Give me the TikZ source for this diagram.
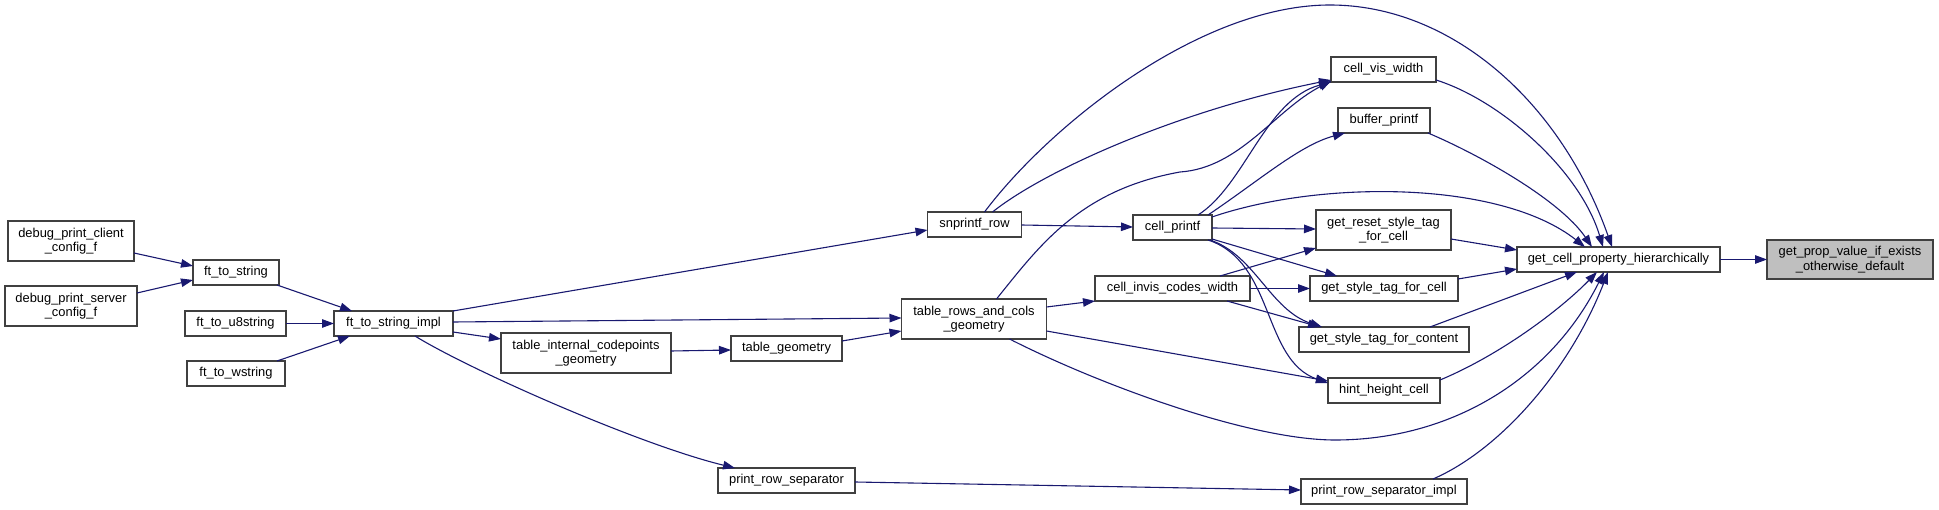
\documentclass[tikz,border=0pt]{standalone}
\usepackage{fontspec}
\setmainfont{Liberation Sans}
\usetikzlibrary{arrows.meta,calc}
\definecolor{edgec}{HTML}{191970}
\definecolor{nodeb}{HTML}{404040}
\definecolor{hl}{HTML}{BFBFBF}
\tikzset{
  box/.style={draw=nodeb, line width=1.1pt, fill=white, inner sep=0pt, outer sep=0pt,
    align=center, text=black, font=\fontsize{12.9}{14.5}\selectfont},
  edge/.style={draw=edgec, line width=1.1pt, -{Triangle[length=12pt,width=8.5pt]}},
}
\begin{document}
\begin{tikzpicture}[x=1pt,y=-1pt]
\useasboundingbox[fill=white] (0,0) rectangle (1939,510);
% nodes
\node[box, minimum width=126pt, minimum height=40pt] (dpc) at (71,241) {debug\_print\_client\\\_config\_f};
\node[box, minimum width=132pt, minimum height=40pt] (dps) at (71,306) {debug\_print\_server\\\_config\_f};
\node[box, minimum width=86pt, minimum height=25pt] (fts) at (236,272.5) {ft\_to\_string};
\node[box, minimum width=101pt, minimum height=25pt] (ftu) at (235.5,323.5) {ft\_to\_u8string};
\node[box, minimum width=98pt, minimum height=25pt] (ftw) at (236,373.5) {ft\_to\_wstring};
\node[box, minimum width=119pt, minimum height=25pt] (fti) at (393.5,323.5) {ft\_to\_string\_impl};
\node[box, minimum width=94pt, minimum height=25pt] (snr) at (974.5,224.5) {snprintf\_row};
\node[box, minimum width=145pt, minimum height=40pt] (trcg) at (974,319) {table\_rows\_and\_cols\\\_geometry};
\node[box, minimum width=170pt, minimum height=40pt] (ticg) at (586,353) {table\_internal\_codepoints\\\_geometry};
\node[box, minimum width=111pt, minimum height=25pt] (tg) at (786.5,348.5) {table\_geometry};
\node[box, minimum width=137pt, minimum height=25pt] (prs) at (786.5,480.5) {print\_row\_separator};
\node[box, minimum width=105pt, minimum height=25pt] (cvw) at (1383.5,69.5) {cell\_vis\_width};
\node[box, minimum width=92pt, minimum height=25pt] (bp) at (1384,120.5) {buffer\_printf};
\node[box, minimum width=79pt, minimum height=25pt] (cp) at (1172.5,227.5) {cell\_printf};
\node[box, minimum width=135pt, minimum height=40pt] (grst) at (1383.5,230) {get\_reset\_style\_tag\\\_for\_cell};
\node[box, minimum width=155pt, minimum height=25pt] (ciw) at (1172.5,288.5) {cell\_invis\_codes\_width};
\node[box, minimum width=148pt, minimum height=25pt] (gstc) at (1384,288.5) {get\_style\_tag\_for\_cell};
\node[box, minimum width=170pt, minimum height=25pt] (gstcont) at (1384,339.5) {get\_style\_tag\_for\_content};
\node[box, minimum width=112pt, minimum height=25pt] (hhc) at (1384,390.5) {hint\_height\_cell};
\node[box, minimum width=166pt, minimum height=25pt] (prsi) at (1384,491.5) {print\_row\_separator\_impl};
\node[box, minimum width=203pt, minimum height=25pt] (gcph) at (1618.5,259.5) {get\_cell\_property\_hierarchically};
\node[box, fill=hl, minimum width=166pt, minimum height=39pt] (gpv) at (1850,259.5) {get\_prop\_value\_if\_exists\\\_otherwise\_default};
% edges
\draw[edge] ($(dpc.north west)+(126,32)$) -- ($(fts.north west)+(0,6)$);
\draw[edge] ($(dps.north west)+(132,7)$) -- ($(fts.north west)+(0,20)$);
\draw[edge] ($(fts.north west)+(84,25)$) -- ($(fti.north west)+(18,0)$);
\draw[edge] (ftu.east) -- (fti.west);
\draw[edge] ($(ftw.north west)+(90,0)$) -- ($(fti.north west)+(16,25)$);
\draw[edge] (fti.north east) -- ($(snr.north west)+(0,18)$);
\draw[edge] ($(fti.north west)+(119,11)$) -- ($(trcg.north west)+(0,19)$);
\draw[edge] ($(fti.north west)+(119,21)$) -- ($(ticg.north west)+(0,6)$);
\draw[edge] ($(fti.north west)+(81,25)$) .. controls (470,370) and (640,445) .. ($(prs.north west)+(17,0)$);
\draw[edge] ($(ticg.north west)+(170,18)$) -- ($(tg.north west)+(0,14)$);
\draw[edge] ($(tg.north west)+(111,5)$) -- ($(trcg.north west)+(0,32)$);
\draw[edge] ($(snr.north west)+(94,13)$) -- ($(cp.north west)+(0,12)$);
\draw[edge] ($(snr.north west)+(65,0)$) .. controls (1045,170) and (1180,110) .. ($(cvw.north west)+(0,23)$);
\draw[edge] ($(snr.north west)+(57,0)$) .. controls (1050,125) and (1200,5) .. (1330,5)
   .. controls (1450,5) and (1560,100) .. ($(gcph.north west)+(95,0)$);
\draw[edge] ($(trcg.north west)+(95,0)$) .. controls (1040,245) and (1080,190) .. (1180,172)
   .. controls (1240,168) and (1275,110) .. ($(cvw.north west)+(0,24)$);
\draw[edge] ($(trcg.north west)+(145,8)$) -- (ciw.south west);
\draw[edge] ($(trcg.north west)+(145,32)$) -- ($(hhc.north west)+(0,3)$);
\draw[edge] ($(trcg.north west)+(108,40)$) .. controls (1100,385) and (1250,440) .. (1335,440)
   .. controls (1450,440) and (1550,380) .. ($(gcph.north west)+(87,25)$);
\draw[edge] ($(cp.north west)+(65,0)$) .. controls (1245,185) and (1265,100) .. (cvw.south west);
\draw[edge] ($(cp.north west)+(75,0)$) .. controls (1260,180) and (1300,145) .. ($(bp.north west)+(7,25)$);
\draw[edge] ($(cp.north west)+(79,2)$) .. controls (1320,180) and (1500,180) .. ($(gcph.north west)+(68,0)$);
\draw[edge] ($(cp.north west)+(79,13)$) -- ($(grst.north west)+(0,19)$);
\draw[edge] ($(cp.north west)+(79,24)$) -- ($(gstc.north west)+(27,0)$);
\draw[edge] ($(cp.north west)+(77,25)$) .. controls (1255,255) and (1270,310) .. ($(gstcont.north west)+(23,0)$);
\draw[edge] ($(cp.north west)+(75,25)$) .. controls (1275,262) and (1262,360) .. ($(hhc.north west)+(0,5)$);
\draw[edge] ($(ciw.north west)+(125,0)$) -- ($(grst.north west)+(0,38)$);
\draw[edge] (ciw.east) -- (gstc.west);
\draw[edge] ($(ciw.north west)+(132,25)$) -- ($(gstcont.north west)+(21,0)$);
\draw[edge] ($(cvw.north west)+(105,23)$) .. controls (1500,100) and (1580,170) .. ($(gcph.north west)+(86,0)$);
\draw[edge] ($(bp.north west)+(90,25)$) .. controls (1480,155) and (1560,200) .. ($(gcph.north west)+(75,0)$);
\draw[edge] ($(grst.north west)+(135,29)$) -- ($(gcph.north west)+(0,3)$);
\draw[edge] ($(gstc.north west)+(148,3)$) -- ($(gcph.north west)+(0,22)$);
\draw[edge] ($(gstcont.north west)+(131,0)$) -- ($(gcph.north west)+(60,25)$);
\draw[edge] ($(hhc.north west)+(112,2)$) .. controls (1500,355) and (1560,310) .. ($(gcph.north west)+(80,25)$);
\draw[edge] ($(prsi.north west)+(132,0)$) .. controls (1500,450) and (1570,370) .. ($(gcph.north west)+(91,25)$);
\draw[edge] ($(prs.north west)+(137,14)$) -- ($(prsi.north west)+(0,11)$);
\draw[edge] (gcph.east) -- (gpv.west);
\end{tikzpicture}
\end{document}
